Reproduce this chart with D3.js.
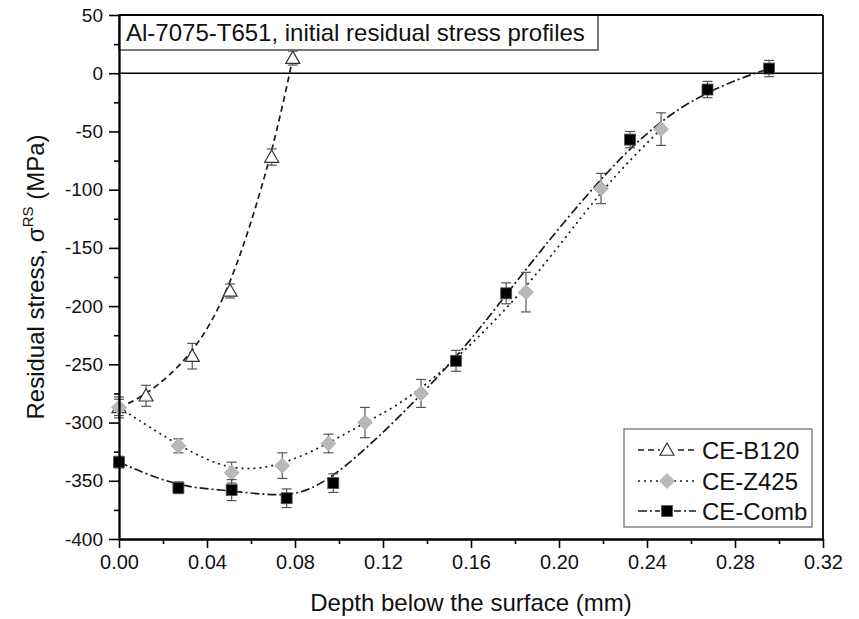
<!DOCTYPE html>
<html><head><meta charset="utf-8">
<script src="https://cdn.jsdelivr.net/npm/d3@7"></script>
<style>
body{margin:0;background:#fff;}
text{font-family:"Liberation Sans",Arial,sans-serif;}
</style></head>
<body><svg id="chart" width="859" height="619"></svg>
<script>
// ---- data ----
const titleText = "Al-7075-T651, initial residual stress profiles";
const xTicks = [0, 0.04, 0.08, 0.12, 0.16, 0.20, 0.24, 0.28, 0.32];
const xTickLabels = ["0.00","0.04","0.08","0.12","0.16","0.20","0.24","0.28","0.32"];
const yTicks = [50, 0, -50, -100, -150, -200, -250, -300, -350, -400];
const yTickLabels = ["50","0","-50","-100","-150","-200","-250","-300","-350","-400"];
const seriesNames = ["CE-B120", "CE-Z425", "CE-Comb"];

const b120X = [0.000, 0.0123, 0.0333, 0.0505, 0.0694, 0.0790];
const b120Y = [-287, -277, -243, -187, -72, 13];
const b120E = [7, 9, 11, 6, 7, 6];

const z425X = [0.000, 0.0270, 0.0512, 0.0742, 0.0952, 0.1118, 0.1373, 0.1850, 0.2191, 0.2464];
const z425Y = [-287, -320, -343, -337, -318, -300, -275, -188, -99, -48];
const z425E = [9, 6, 9, 11, 8, 13, 12, 17, 13, 14];

const combX = [0.000, 0.0270, 0.0512, 0.0762, 0.0974, 0.1532, 0.1760, 0.2323, 0.2675, 0.2955];
const combY = [-334, -356, -358, -365, -352, -247, -189, -57, -14, 4];
const combE = [5, 5, 9, 8, 8, 9, 9, 7, 7, 7];

// ---- layout ----
const svg = d3.select("#chart");
const L = 119, R = 823, T = 15, B = 539;
const x = d3.scaleLinear().domain([0, 0.32]).range([L, R]);
const y = d3.scaleLinear().domain([-400, 50]).range([B, T]);

const zip = (xs, ys, es) => xs.map((v, i) => ({x: v, y: ys[i], e: es[i]}));
const series = [
  {name: seriesNames[0], data: zip(b120X, b120Y, b120E), dash: "6,4", marker: "tri"},
  {name: seriesNames[1], data: zip(z425X, z425Y, z425E), dash: "2,4", marker: "dia"},
  {name: seriesNames[2], data: zip(combX, combY, combE), dash: "9,3,2,3", marker: "sq"}
];

// zero line
svg.append("line").attr("x1", L).attr("x2", R).attr("y1", y(0)).attr("y2", y(0))
  .attr("stroke", "#000").attr("stroke-width", 1.6);

// title box
const tb = svg.append("g");
tb.append("rect").attr("x", L).attr("y", T).attr("width", 598 - L).attr("height", 50 - T)
  .attr("fill", "#fff").attr("stroke", "#222").attr("stroke-width", 1.2);
tb.append("text").attr("x", 126).attr("y", 41).attr("font-size", 24).attr("fill", "#111").text(titleText);

// curves
const lineGen = d3.line().x(d => x(d.x)).y(d => y(d.y)).curve(d3.curveBasis);
series.forEach(s => {
  svg.append("path").datum(s.data).attr("d", lineGen).attr("fill", "none")
    .attr("stroke", "#1a1a1a").attr("stroke-width", 1.7).attr("stroke-dasharray", s.dash);
});

// markers
function drawMarker(g, type, cx, cy) {
  if (type === "tri") {
    const h = 7;
    g.append("path").attr("d", `M${cx},${cy - h} L${cx + h},${cy + h * 0.75} L${cx - h},${cy + h * 0.75} Z`)
      .attr("fill", "#fff").attr("stroke", "#333").attr("stroke-width", 1.2);
  } else if (type === "dia") {
    const h = 7.5;
    g.append("path").attr("d", `M${cx},${cy - h} L${cx + h},${cy} L${cx},${cy + h} L${cx - h},${cy} Z`)
      .attr("fill", "#b8b8b8").attr("stroke", "#b0b0b0").attr("stroke-width", 0.8);
  } else {
    const h = 5.5;
    g.append("rect").attr("x", cx - h).attr("y", cy - h).attr("width", 2 * h).attr("height", 2 * h)
      .attr("fill", "#000").attr("stroke", "#555").attr("stroke-width", 0.8);
  }
}

series.forEach(s => {
  const g = svg.append("g");
  s.data.forEach(d => {
    const cx = x(d.x), y1 = y(d.y + d.e), y2 = y(d.y - d.e);
    g.append("line").attr("x1", cx).attr("x2", cx).attr("y1", y1).attr("y2", y2)
      .attr("stroke", "#555").attr("stroke-width", 1.2);
    [y1, y2].forEach(yy => g.append("line").attr("x1", cx - 5).attr("x2", cx + 5)
      .attr("y1", yy).attr("y2", yy).attr("stroke", "#555").attr("stroke-width", 1.2));
    drawMarker(g, s.marker, cx, y(d.y));
  });
});

// axes
const xMinor = d3.range(0, 0.3201, 0.02).filter((v, i) => i % 2 === 1);
const yMinor = d3.range(-375, 50, 50);

const xAx = svg.append("g").attr("transform", `translate(0,${B})`)
  .call(d3.axisBottom(x).tickValues(xTicks).tickFormat((d, i) => xTickLabels[i]).tickSizeInner(9).tickSizeOuter(0).tickPadding(7));
svg.append("g").attr("transform", `translate(0,${B})`)
  .call(d3.axisBottom(x).tickValues(xMinor).tickFormat("").tickSizeInner(5).tickSizeOuter(0));
const yAx = svg.append("g").attr("transform", `translate(${L},0)`)
  .call(d3.axisLeft(y).tickValues(yTicks).tickFormat((d, i) => yTickLabels[i]).tickSizeInner(10).tickSizeOuter(0).tickPadding(6));
svg.append("g").attr("transform", `translate(${L},0)`)
  .call(d3.axisLeft(y).tickValues(yMinor).tickFormat("").tickSizeInner(5).tickSizeOuter(0));

svg.selectAll(".domain").attr("stroke", "#000").attr("stroke-width", 1.8);
svg.selectAll(".tick line").attr("stroke", "#000").attr("stroke-width", 1.6);
xAx.selectAll("text").attr("font-size", 20).attr("fill", "#111")
  .attr("font-family", "'Liberation Sans Narrow','Liberation Sans',Arial,sans-serif");
yAx.selectAll("text").attr("font-size", 19).attr("fill", "#111")
  .attr("font-family", "'Liberation Sans',Arial,sans-serif");

// frame top and right
svg.append("line").attr("x1", L).attr("x2", R).attr("y1", T).attr("y2", T).attr("stroke", "#000").attr("stroke-width", 1.8);
svg.append("line").attr("x1", R).attr("x2", R).attr("y1", T).attr("y2", B).attr("stroke", "#000").attr("stroke-width", 1.8);

// axis titles
svg.append("text").attr("x", (L + R) / 2).attr("y", 611).attr("text-anchor", "middle")
  .attr("font-size", 24).attr("fill", "#111").text("Depth below the surface (mm)");
const yl = svg.append("text").attr("transform", `translate(44,${(T + B) / 2}) rotate(-90)`)
  .attr("text-anchor", "middle").attr("font-size", 24).attr("fill", "#111");
yl.append("tspan").text("Residual stress, σ");
yl.append("tspan").attr("font-size", 15).attr("dy", -11).text("RS");
yl.append("tspan").attr("dy", 11).text(" (MPa)");

// legend
const lg = svg.append("g");
lg.append("rect").attr("x", 624).attr("y", 429).attr("width", 812 - 624).attr("height", 527 - 429)
  .attr("fill", "#fff").attr("stroke", "#666").attr("stroke-width", 1.2);
const legY = [450, 481, 511];
series.forEach((s, i) => {
  const ly = legY[i];
  lg.append("line").attr("x1", 638).attr("x2", 696).attr("y1", ly).attr("y2", ly)
    .attr("stroke", "#1a1a1a").attr("stroke-width", 1.6).attr("stroke-dasharray", s.dash);
  lg.append("rect").attr("x", 660).attr("y", ly - 8).attr("width", 14).attr("height", 16).attr("fill", "#fff");
  drawMarker(lg, s.marker, 667, ly);
  lg.append("text").attr("x", 702).attr("y", ly + 8.5).attr("font-size", 24).attr("fill", "#111").text(s.name);
});
</script></body></html>
